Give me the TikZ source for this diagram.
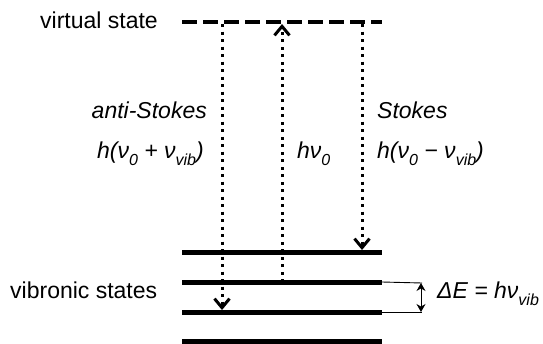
\documentclass[tikz,border=0pt]{standalone}
\usepackage{fontspec}
\setmainfont{Liberation Sans}
\usetikzlibrary{arrows.meta}
\newcommand\lsub[1]{\raisebox{-0.33em}{\fontsize{16}{16}\selectfont #1}}
\begin{document}
\begin{tikzpicture}[x=1pt,y=-1pt,
  lbl/.style={inner sep=0pt, font=\fontsize{23}{27}\selectfont},
  level/.style={line width=5pt},
  virt/.style={line width=4.5pt, dash pattern=on 15pt off 6pt},
  trans/.style={line width=3pt, dash pattern=on 3pt off 4.5pt,
    -{Straight Barb[length=9pt,width=15pt,line width=3pt]}},
  thinline/.style={line width=0.9pt},
  ]
\useasboundingbox (0,0) rectangle (543,343);
% virtual state
\coordinate (vL) at (182,22);
\coordinate (vR) at (382,22);
\draw[virt] (vL) -- (vR);
% vibronic levels
\coordinate (l1L) at (182,252); \coordinate (l1R) at (382,252);
\coordinate (l2L) at (182,282); \coordinate (l2R) at (382,282);
\coordinate (l3L) at (182,312); \coordinate (l3R) at (382,312);
\coordinate (l4L) at (182,341); \coordinate (l4R) at (382,341);
\draw[level] (l1L) -- (l1R);
\draw[level] (l2L) -- (l2R);
\draw[level] (l3L) -- (l3R);
\draw[level] (l4L) -- (l4R);
% transitions
\coordinate (asTop) at (222,24);
\coordinate (asBot) at (222,310);
\coordinate (exBot) at (282,282);
\coordinate (exTop) at (282,24);
\coordinate (stTop) at (362,24);
\coordinate (stBot) at (362,250);
\draw[trans] (asTop) -- (asBot);
\draw[trans] (exBot) -- (exTop);
\draw[trans] (stTop) -- (stBot);
% delta E bracket
\coordinate (b1) at (422,283);
\coordinate (b2) at (422,312);
\draw[thinline] (l2R) -- (b1);
\draw[thinline] (l3R) -- (b2);
\draw[thinline, {Stealth[length=8pt,width=9pt]}-{Stealth[length=8pt,width=9pt]}] ([xshift=-1pt]b1) -- ([xshift=-1pt]b2);
% labels
\node[lbl, anchor=base west] (virt) at (40,28) {virtual state};
\node[lbl, anchor=base west] (vib) at (10,298) {vibronic states};
\node[lbl, anchor=base east] (as) at (207,118) {\itshape anti-Stokes};
\node[lbl, anchor=base east] (ase) at (204,158) {\itshape h(ν\lsub{0} + ν\lsub{vib})};
\node[lbl, anchor=base west] (ex) at (297,158) {\itshape hν\lsub{0}};
\node[lbl, anchor=base west] (st) at (377,118) {\itshape Stokes};
\node[lbl, anchor=base west] (ste) at (377,158) {\itshape h(ν\lsub{0} − ν\lsub{vib})};
\node[lbl, anchor=base west] (de) at (437,298) {\itshape ΔE = hν\lsub{vib}};
\end{tikzpicture}
\end{document}
